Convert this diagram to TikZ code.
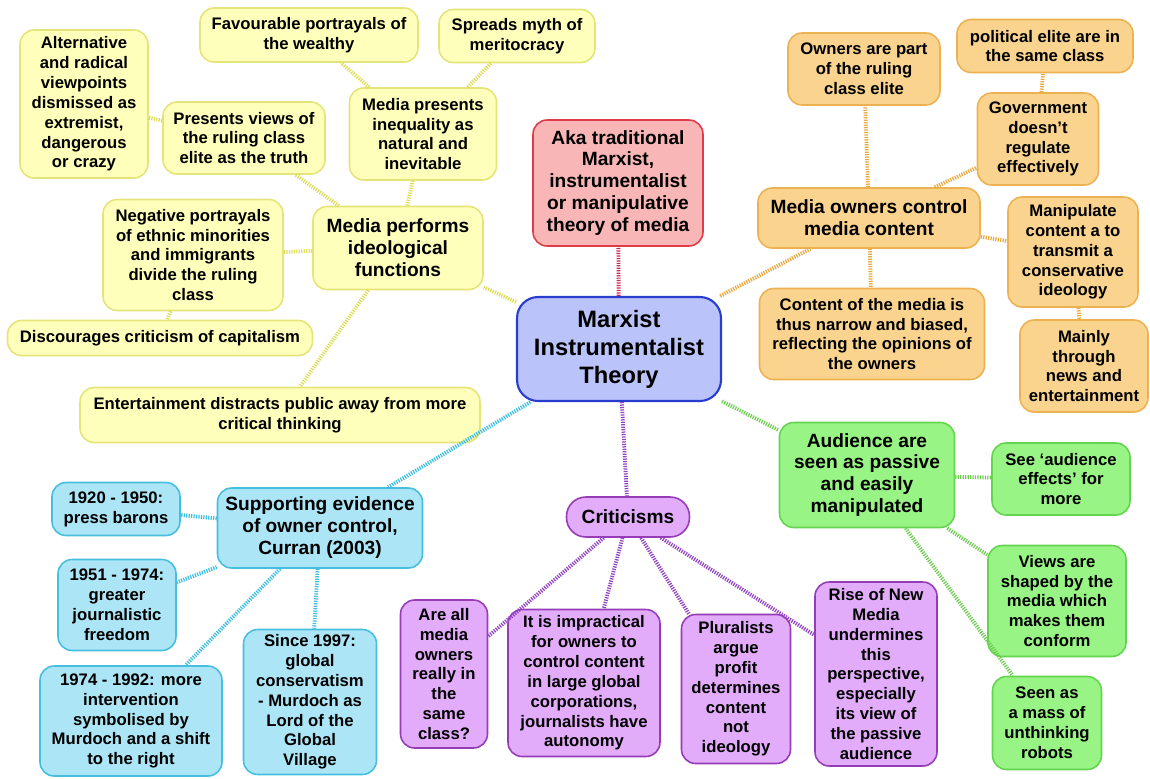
\documentclass[tikz,border=0pt]{standalone}
\usepackage{fontspec}
\setmainfont{Liberation Sans}

\definecolor{yfill}{RGB}{255,255,188}
\definecolor{yline}{RGB}{228,228,120}
\definecolor{ylink}{RGB}{222,222,90}
\definecolor{rfill}{RGB}{248,182,182}
\definecolor{rline}{RGB}{222,60,72}
\definecolor{rlink}{RGB}{200,40,80}
\definecolor{bfill}{RGB}{186,196,250}
\definecolor{bline}{RGB}{40,60,205}
\definecolor{ofill}{RGB}{250,212,142}
\definecolor{oline}{RGB}{236,178,82}
\definecolor{olink}{RGB}{232,168,60}
\definecolor{gfill}{RGB}{152,244,132}
\definecolor{gline}{RGB}{100,212,80}
\definecolor{glink}{RGB}{110,205,80}
\definecolor{pfill}{RGB}{226,172,250}
\definecolor{pline}{RGB}{150,60,182}
\definecolor{plink}{RGB}{145,65,195}
\definecolor{cfill}{RGB}{172,230,246}
\definecolor{cline}{RGB}{70,190,222}
\definecolor{clink}{RGB}{60,190,225}

\tikzset{
  box/.style={draw, rounded corners=8pt, line width=0.9pt, align=center,
    inner sep=2pt, font=\bfseries\fontsize{9.5}{11.3}\selectfont},
  mid/.style={font=\bfseries\fontsize{10.9}{12.5}\selectfont},
  sz/.style 2 args={minimum width=#1cm, minimum height=#2cm},
  yel/.style={box, fill=yfill, draw=yline},
  red/.style={box, fill=rfill, draw=rline},
  blu/.style={box, fill=bfill, draw=bline, line width=1.2pt, rounded corners=12pt,
    font=\bfseries\fontsize{13.5}{16}\selectfont},
  ora/.style={box, fill=ofill, draw=oline},
  gre/.style={box, fill=gfill, draw=gline},
  pur/.style={box, fill=pfill, draw=pline},
  cya/.style={box, fill=cfill, draw=cline},
  link/.style={line width=2.2pt, dash pattern=on 0.7pt off 0.7pt},
}

\begin{document}
\begin{tikzpicture}[x=0.02cm, y=-0.02cm]
\useasboundingbox (0,0) rectangle (1150,778);

% centre
\node[blu, sz={4.08}{2.08}] (root) at (619,349) {Marxist\\Instrumentalist\\Theory};
\node[red, mid, sz={3.40}{2.52}] (aka) at (618,183) {Aka traditional\\Marxist,\\instrumentalist\\or manipulative\\theory of media};

% ideological functions
\node[yel, mid, sz={3.40}{1.66}] (ideo) at (398,248) {Media performs\\ideological\\functions};
\node[yel, sz={4.36}{1.08}] (wealthy) at (309,35) {Favourable portrayals of\\the wealthy};
\node[yel, sz={3.12}{1.06}] (myth) at (517,36) {Spreads myth of\\meritocracy};
\node[yel, sz={2.56}{2.96}] (alt) at (84,104) {Alternative\\and radical\\viewpoints\\dismissed as\\extremist,\\dangerous\\or crazy};
\node[yel, sz={3.24}{1.44}] (views) at (244,138) {Presents views of\\the ruling class\\elite as the truth};
\node[yel, sz={2.94}{1.84}] (ineq) at (423,134) {Media presents\\inequality as\\natural and\\inevitable};
\node[yel, sz={3.60}{2.22}] (ethnic) at (193,255) {Negative portrayals\\of ethnic minorities\\and immigrants\\divide the ruling\\class};
\node[yel, sz={6.10}{0.70}] (capital) at (160,338) {Discourages criticism of capitalism};
\node[yel, sz={8.00}{1.10}] (ent) at (280,415) {Entertainment distracts public away from more\\critical thinking};

% owner control
\node[ora, mid, sz={4.44}{1.20}] (control) at (869,218) {Media owners control\\media content};
\node[ora, sz={3.04}{1.44}] (owners) at (864,69) {Owners are part\\of the ruling\\class elite};
\node[ora, sz={3.52}{1.06}] (elite) at (1045,46) {political elite are in\\the same class};
\node[ora, sz={2.42}{1.84}] (gov) at (1038,139) {Government\\doesn’t\\regulate\\effectively};
\node[ora, sz={2.60}{2.20}] (manip) at (1073,252) {Manipulate\\content a to\\transmit a\\conservative\\ideology};
\node[ora, sz={4.50}{1.82}] (narrow) at (872,334) {Content of the media is\\thus narrow and biased,\\reflecting the opinions of\\the owners};
\node[ora, sz={2.56}{1.84}] (news) at (1084,366) {Mainly\\through\\news and\\entertainment};

% audience
\node[gre, mid, sz={3.50}{2.10}] (aud) at (867,475) {Audience are\\seen as passive\\and easily\\manipulated};
\node[gre, sz={2.76}{1.44}] (effects) at (1061,479) {See ‘audience\\effects’ for\\more};
\node[gre, sz={2.76}{2.22}] (shaped) at (1057,601) {Views are\\shaped by the\\media which\\makes them\\conform};
\node[gre, sz={2.18}{1.86}] (robots) at (1047,723) {Seen as\\a mass of\\unthinking\\robots};

% criticisms
\node[pur, mid, sz={2.46}{0.80}, rounded corners=11pt] (crit) at (628,517) {Criticisms};
\node[pur, sz={1.74}{2.96}] (same) at (444,674) {Are all\\media\\owners\\really in\\the\\same\\class?};
\node[pur, sz={3.04}{2.94}] (impr) at (584,683) {It is impractical\\for owners to\\control content\\in large global\\corporations,\\journalists have\\autonomy};
\node[pur, sz={2.18}{2.98}] (plur) at (736,689) {Pluralists\\argue\\profit\\determines\\content\\not\\ideology};
\node[pur, sz={2.44}{3.68}] (newmedia) at (876,674) {Rise of New\\Media\\undermines\\this\\perspective,\\especially\\its view of\\the passive\\audience};

% evidence
\node[cya, mid, sz={4.10}{1.60}] (curran) at (320,528) {Supporting evidence\\of owner control,\\Curran (2003)};
\node[cya, sz={2.56}{1.06}] (barons) at (116,509) {1920 - 1950:\\press barons};
\node[cya, sz={2.36}{1.82}] (free) at (117,605) {1951 - 1974:\\greater\\journalistic\\freedom};
\node[cya, sz={3.64}{2.20}] (right) at (131,721) {1974 - 1992: more\\intervention\\symbolised by\\Murdoch and a shift\\to the right};
\node[cya, sz={2.66}{2.90}] (global) at (310,702) {Since 1997:\\global\\conservatism\\- Murdoch as\\Lord of the\\Global\\Village};

% links
\draw[link, rlink] (root) -- (aka);
\draw[link, ylink] (root) -- (ideo);
\draw[link, ylink] (ideo) -- (ineq);
\draw[link, ylink] (ineq) -- (wealthy);
\draw[link, ylink] (ineq) -- (myth);
\draw[link, ylink] (ideo) -- (views);
\draw[link, ylink] (views) -- (alt);
\draw[link, ylink] (ideo) -- (ethnic);
\draw[link, ylink] (ethnic) -- (capital);
\draw[link, ylink] (ideo) -- (ent);
\draw[link, olink] (root) -- (control);
\draw[link, olink] (control) -- (owners);
\draw[link, olink] (control) -- (gov);
\draw[link, olink] (gov) -- (elite);
\draw[link, olink] (control) -- (manip);
\draw[link, olink] (manip) -- (news);
\draw[link, olink] (control) -- (narrow);
\draw[link, glink] (root) -- (aud);
\draw[link, glink] (aud) -- (effects);
\draw[link, glink] (aud) -- (shaped);
\draw[link, glink] (aud) -- (robots);
\draw[link, plink] (root) -- (crit);
\draw[link, plink] (crit) -- (same);
\draw[link, plink] (crit) -- (impr);
\draw[link, plink] (crit) -- (plur);
\draw[link, plink] (crit) -- (newmedia);
\draw[link, clink] (root) -- (curran);
\draw[link, clink] (curran) -- (barons);
\draw[link, clink] (curran) -- (free);
\draw[link, clink] (curran) -- (right);
\draw[link, clink] (curran) -- (global);
\end{tikzpicture}
\end{document}
